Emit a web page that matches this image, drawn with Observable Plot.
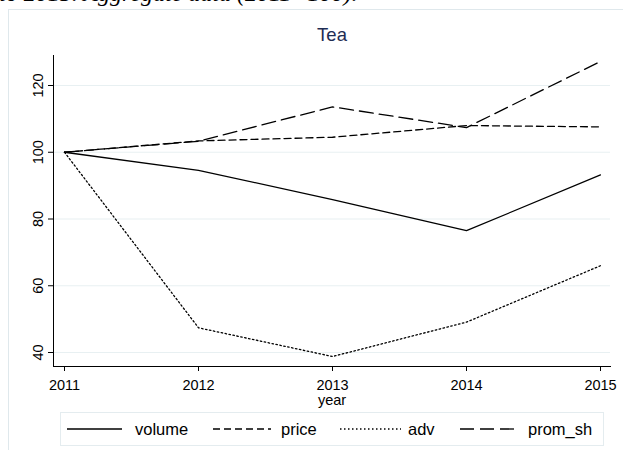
<!DOCTYPE html>
<html>
<head>
<meta charset="utf-8">
<script src="https://cdn.jsdelivr.net/npm/d3@7"></script>
<script src="https://cdn.jsdelivr.net/npm/@observablehq/plot@0.6"></script>
<style>
  html, body { margin: 0; padding: 0; background: #fff; }
  #wrap { position: relative; width: 623px; height: 450px; overflow: hidden; font-family: "Liberation Sans", Arial, sans-serif; }
  #caption { position: absolute; left: -1px; top: -20px; font-family: "Liberation Serif", "Times New Roman", serif; font-style: italic; font-size: 24px; white-space: nowrap; color: #000; }
  #frame { position: absolute; left: 8px; top: 9px; width: 640px; height: 470px; border: 1px solid #dfe8ec; box-sizing: border-box; }
  #chart { position: absolute; left: 0; top: 0; }
  #legend { position: absolute; left: 0; top: 0; }
</style>
</head>
<body>
<div id="wrap">
  <div id="caption">to 2015. Aggregate data (2011=100).</div>
  <div id="frame"></div>
  <div id="chart"></div>
  <svg id="legend" width="623" height="450"></svg>
</div>
<script>
const years = [2011, 2012, 2013, 2014, 2015];
const seriesNames = ["volume", "price", "adv", "prom_sh"];
const volume = [100, 94.6, 85.8, 76.5, 93.2];
const price = [100, 103.4, 104.5, 108.0, 107.6];
const adv = [100, 47.4, 38.8, 49.1, 66.0];
const prom_sh = [100, 103.3, 113.6, 107.4, 127.2];
const yTicks = [40, 60, 80, 100, 120];
const titleText = "Tea";
const xLabel = "year";

const dashes = { volume: null, price: "7,4", adv: "1.5,2.5", prom_sh: "14,6" };
const valuesBy = { volume, price, adv, prom_sh };
const rows = seriesNames.flatMap(s => years.map((yr, i) => ({ series: s, year: yr, value: valuesBy[s][i] })));

const marks = [
  Plot.ruleY(yTicks, { stroke: "#e8f0f2", strokeWidth: 1.2 }),
  ...seriesNames.map(s => Plot.line(rows.filter(r => r.series === s), {
    x: "year", y: "value", stroke: "black", strokeWidth: 1.3,
    strokeDasharray: dashes[s] || undefined
  })),
  Plot.axisX(years, { tickFormat: d => String(d), tickSize: 5, tickPadding: 8, fontSize: 14.5, label: null, stroke: "#000" }),
  Plot.axisY(yTicks, { tickSize: 5, tickFormat: () => "", label: null, stroke: "#000" }),
  Plot.text(yTicks, { y: d => d, text: d => String(d), frameAnchor: "left", dx: -11, rotate: -90, textAnchor: "middle", lineAnchor: "bottom", fontSize: 14.5, fill: "#000" }),
  Plot.frame({ anchor: "left", stroke: "#000" }),
  Plot.frame({ anchor: "bottom", stroke: "#000" }),
  Plot.text([titleText], { frameAnchor: "top", dy: -28, text: d => d, fontSize: 18.5, fill: "#1e2d53", lineAnchor: "top" }),
  Plot.text([xLabel], { frameAnchor: "bottom", dy: 28, text: d => d, fontSize: 14.5, fill: "#000", lineAnchor: "top" })
];

const chart = Plot.plot({
  width: 623,
  height: 400,
  marginLeft: 53,
  marginRight: 13,
  marginTop: 55,
  marginBottom: 34,
  style: { fontFamily: "'Liberation Sans', Arial, sans-serif", background: "transparent", overflow: "visible" },
  x: { domain: [2011, 2015], range: [64, 600] },
  y: { domain: [40, 120], range: [352, 85] },
  marks
});
document.getElementById("chart").appendChild(chart);

// Legend
const lg = d3.select("#legend");
lg.append("rect").attr("x", 60.5).attr("y", 412.5).attr("width", 543).attr("height", 33)
  .attr("fill", "#fff").attr("stroke", "#e4ecef");
const legendPos = [
  { s: "volume", x1: 67, x2: 122, tx: 135 },
  { s: "price", x1: 213, x2: 271, tx: 281 },
  { s: "adv", x1: 340, x2: 401, tx: 408 },
  { s: "prom_sh", x1: 460, x2: 517, tx: 528 }
];
legendPos.forEach(p => {
  lg.append("line").attr("x1", p.x1).attr("x2", p.x2).attr("y1", 429).attr("y2", 429)
    .attr("stroke", "black").attr("stroke-width", 1.3)
    .attr("stroke-dasharray", dashes[p.s] || null);
  lg.append("text").attr("x", p.tx).attr("y", 435).text(p.s)
    .attr("font-size", 16.5).attr("font-family", "'Liberation Sans', Arial, sans-serif");
});
</script>
</body>
</html>
